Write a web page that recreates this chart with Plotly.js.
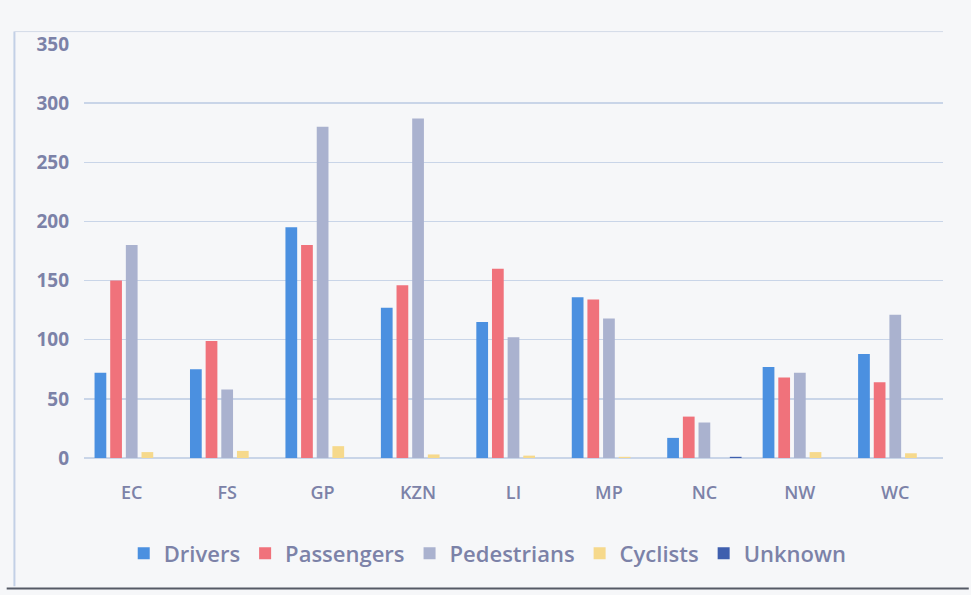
<!DOCTYPE html>
<html>
<head>
<meta charset="utf-8">
<script src="https://cdn.plot.ly/plotly-3.0.1.min.js"></script>
<style>
html,body{margin:0;padding:0;background:#f6f7f9;}
#chart{width:971px;height:595px;}
</style>
</head>
<body>
<div id="chart"></div>
<script>
const categories = ["EC", "FS", "GP", "KZN", "LI", "MP", "NC", "NW", "WC"];
const drivers     = [72, 75, 195, 127, 115, 136, 17, 77, 88];
const passengers  = [150, 99, 180, 146, 160, 134, 35, 68, 64];
const pedestrians = [180, 58, 280, 287, 102, 118, 30, 72, 121];
const cyclists    = [5, 6, 10, 3, 2, 1, 0, 5, 4];
const unknown     = [0, 0, 0, 0, 0, 0, 1, 0, 0];
const yTicks = [0, 50, 100, 150, 200, 250, 300, 350];

const series = [
  {name: "Drivers", y: drivers, color: "#4b90e0"},
  {name: "Passengers", y: passengers, color: "#f0727b"},
  {name: "Pedestrians", y: pedestrians, color: "#aab2cf"},
  {name: "Cyclists", y: cyclists, color: "#f6d98c"},
  {name: "Unknown", y: unknown, color: "#3f5fae"}
];

const traces = series.map(s => ({
  type: "bar",
  name: s.name,
  x: categories,
  y: s.y,
  marker: {color: s.color}
}));

const layout = {
  width: 971, height: 595,
  paper_bgcolor: "#f6f7f9",
  plot_bgcolor: "#f6f7f9",
  margin: {l: 84, r: 28, t: 44, b: 137},
  barmode: "group",
  bargap: 0.18,
  bargroupgap: 0.25,
  font: {family: "Open Sans, sans-serif", color: "#7c82a8"},
  xaxis: {
    showgrid: false,
    zeroline: false,
    showline: false,
    ticks: "",
    ticklabelstandoff: 22,
    tickfont: {size: 18, color: "#7c82a8", family: "Open Sans, sans-serif", weight: 600}
  },
  yaxis: {
    range: [0, 350],
    tickvals: yTicks,
    ticktext: yTicks.map(String),
    showgrid: true,
    gridcolor: "#c9d5e8",
    gridwidth: 1.5,
    zeroline: true,
    zerolinecolor: "#c9d5e8",
    zerolinewidth: 1.5,
    showline: false,
    ticks: "",
    ticklabelstandoff: 14,
    tickfont: {size: 19, color: "#7c82a8", family: "Open Sans, sans-serif", weight: 700}
  },
  legend: {
    orientation: "h",
    x: 0.47, xanchor: "center",
    y: -0.18, yanchor: "top",
    font: {size: 22, color: "#7c82a8", family: "Open Sans, sans-serif", weight: 600},
    itemwidth: 24,
    tracegroupgap: 0
  },
  shapes: [
    {type: "line", xref: "paper", yref: "paper", x0: -0.081, x1: -0.081, y0: -0.31, y1: 1.03,
     line: {color: "#c3d0e6", width: 2}},
    {type: "line", xref: "paper", yref: "paper", x0: -0.081, x1: 1.0, y0: 1.03, y1: 1.03,
     line: {color: "#d3dbe8", width: 1}},
    {type: "line", xref: "paper", yref: "paper", x0: -0.09, x1: 1.03, y0: -0.315, y1: -0.315,
     line: {color: "#555a66", width: 2}}
  ],
  showlegend: true
};

Plotly.newPlot("chart", traces, layout, {displayModeBar: false, staticPlot: true});
</script>
</body>
</html>
